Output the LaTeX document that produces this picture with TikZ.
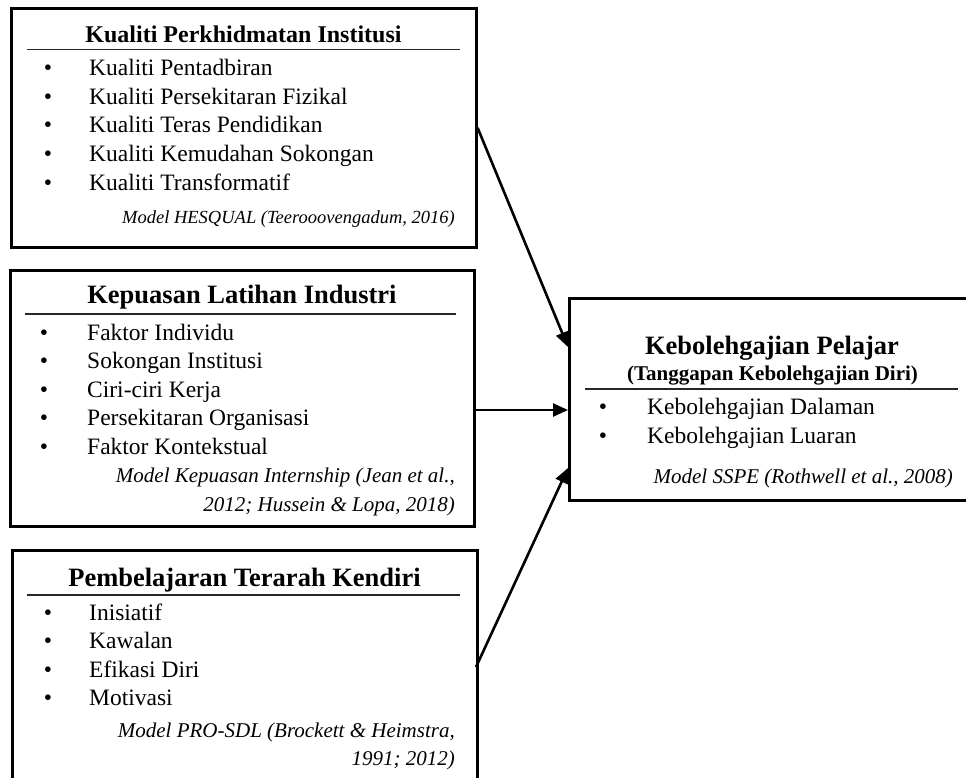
\documentclass[tikz,border=0pt]{standalone}
\usepackage{fontspec}
\setmainfont{Liberation Serif}
\usetikzlibrary{arrows.meta}
\tikzset{
  box/.style={draw, line width=2.6pt, anchor=north west, inner sep=0pt},
  ttl/.style={anchor=base, inner sep=0pt, font=\fontsize{26.5}{30}\selectfont\bfseries},
  itm/.style={anchor=base west, inner sep=0pt, font=\fontsize{23.5}{29}\selectfont},
  bul/.style={anchor=base, inner sep=0pt, font=\fontsize{23.5}{29}\selectfont},
  cite/.style={anchor=base east, inner sep=0pt, font=\fontsize{21}{25}\selectfont\itshape},
  hrule/.style={line width=1.3pt, draw=black!85},
  arr/.style={line width=2.6pt, -{Triangle[length=15pt,width=13pt]}},
}
\begin{document}
\begin{tikzpicture}[x=1pt,y=-1pt]
\useasboundingbox (0,0) rectangle (966,778);
\clip (0,0) rectangle (966,778);
% boxes
\node[box, minimum width=465pt, minimum height=239pt] (B1) at (10,7) {};
\node[box, minimum width=464pt, minimum height=256pt] (B2) at (9,269) {};
\node[box, minimum width=465pt, minimum height=260pt] (B3) at (11,549) {};
\node[box, minimum width=420pt, minimum height=202pt] (B4) at (568,297) {};
% box 1
\node[ttl, font=\fontsize{24}{28}\selectfont\bfseries] (T1) at (243.5,43) {Kualiti Perkhidmatan Institusi};
\draw[hrule] (27,49.5) -- (460,49.5);
\foreach \t [count=\i] in {Kualiti Pentadbiran, Kualiti Persekitaran Fizikal, Kualiti Teras Pendidikan, Kualiti Kemudahan Sokongan, Kualiti Transformatif} {
  \node[bul] (P1b\i) at (48,47.5+28.5*\i) {•};
  \node[itm] (P1i\i) at (89,47.5+28.5*\i) {\t};
}
\node[cite, font=\fontsize{18.5}{22}\selectfont\itshape] (C1) at (455,223) {Model HESQUAL (Teerooovengadum, 2016)};
% box 2
\node[ttl] (T2) at (242,303) {Kepuasan Latihan Industri};
\draw[hrule] (25,314) -- (456,314);
\foreach \t [count=\i] in {Faktor Individu, Sokongan Institusi, Ciri-ciri Kerja, Persekitaran Organisasi, Faktor Kontekstual} {
  \node[bul] (P2b\i) at (44,311.5+28.5*\i) {•};
  \node[itm] (P2i\i) at (87,311.5+28.5*\i) {\t};
}
\node[cite] (C2a) at (455,482) {Model Kepuasan Internship (Jean et al.,};
\node[cite] (C2b) at (455,511) {2012; Hussein \& Lopa, 2018)};
% box 3
\node[ttl] (T3) at (244.5,586) {Pembelajaran Terarah Kendiri};
\draw[hrule] (27,595) -- (460,595);
\foreach \t [count=\i] in {Inisiatif, Kawalan, Efikasi Diri, Motivasi} {
  \node[bul] (P3b\i) at (48,591.5+28.5*\i) {•};
  \node[itm] (P3i\i) at (89,591.5+28.5*\i) {\t};
}
\node[cite] (C3a) at (455,737) {Model PRO-SDL (Brockett \& Heimstra,};
\node[cite] (C3b) at (455,765) {1991; 2012)};
% box 4
\node[ttl] (T4) at (772,354) {Kebolehgajian Pelajar};
\node[ttl, font=\fontsize{21}{25}\selectfont\bfseries] (T4s) at (772.5,380) {(Tanggapan Kebolehgajian Diri)};
\draw[hrule] (585,389) -- (958,389);
\foreach \t [count=\i] in {Kebolehgajian Dalaman, Kebolehgajian Luaran} {
  \node[bul] (P4b\i) at (603,385+29*\i) {•};
  \node[itm] (P4i\i) at (647,385+29*\i) {\t};
}
\node[cite] (C4) at (953,483) {Model SSPE (Rothwell et al., 2008)};
% connectors
\coordinate (t1) at (568,347);
\coordinate (s2) at (473,410);
\coordinate (t2) at (568,410);
\coordinate (s3) at (476,667);
\coordinate (t3) at (568,468);
\draw[arr] (B1.east) -- (t1);
\draw[arr] (s2) -- (t2);
\draw[arr] (s3) -- (t3);
\end{tikzpicture}
\end{document}
